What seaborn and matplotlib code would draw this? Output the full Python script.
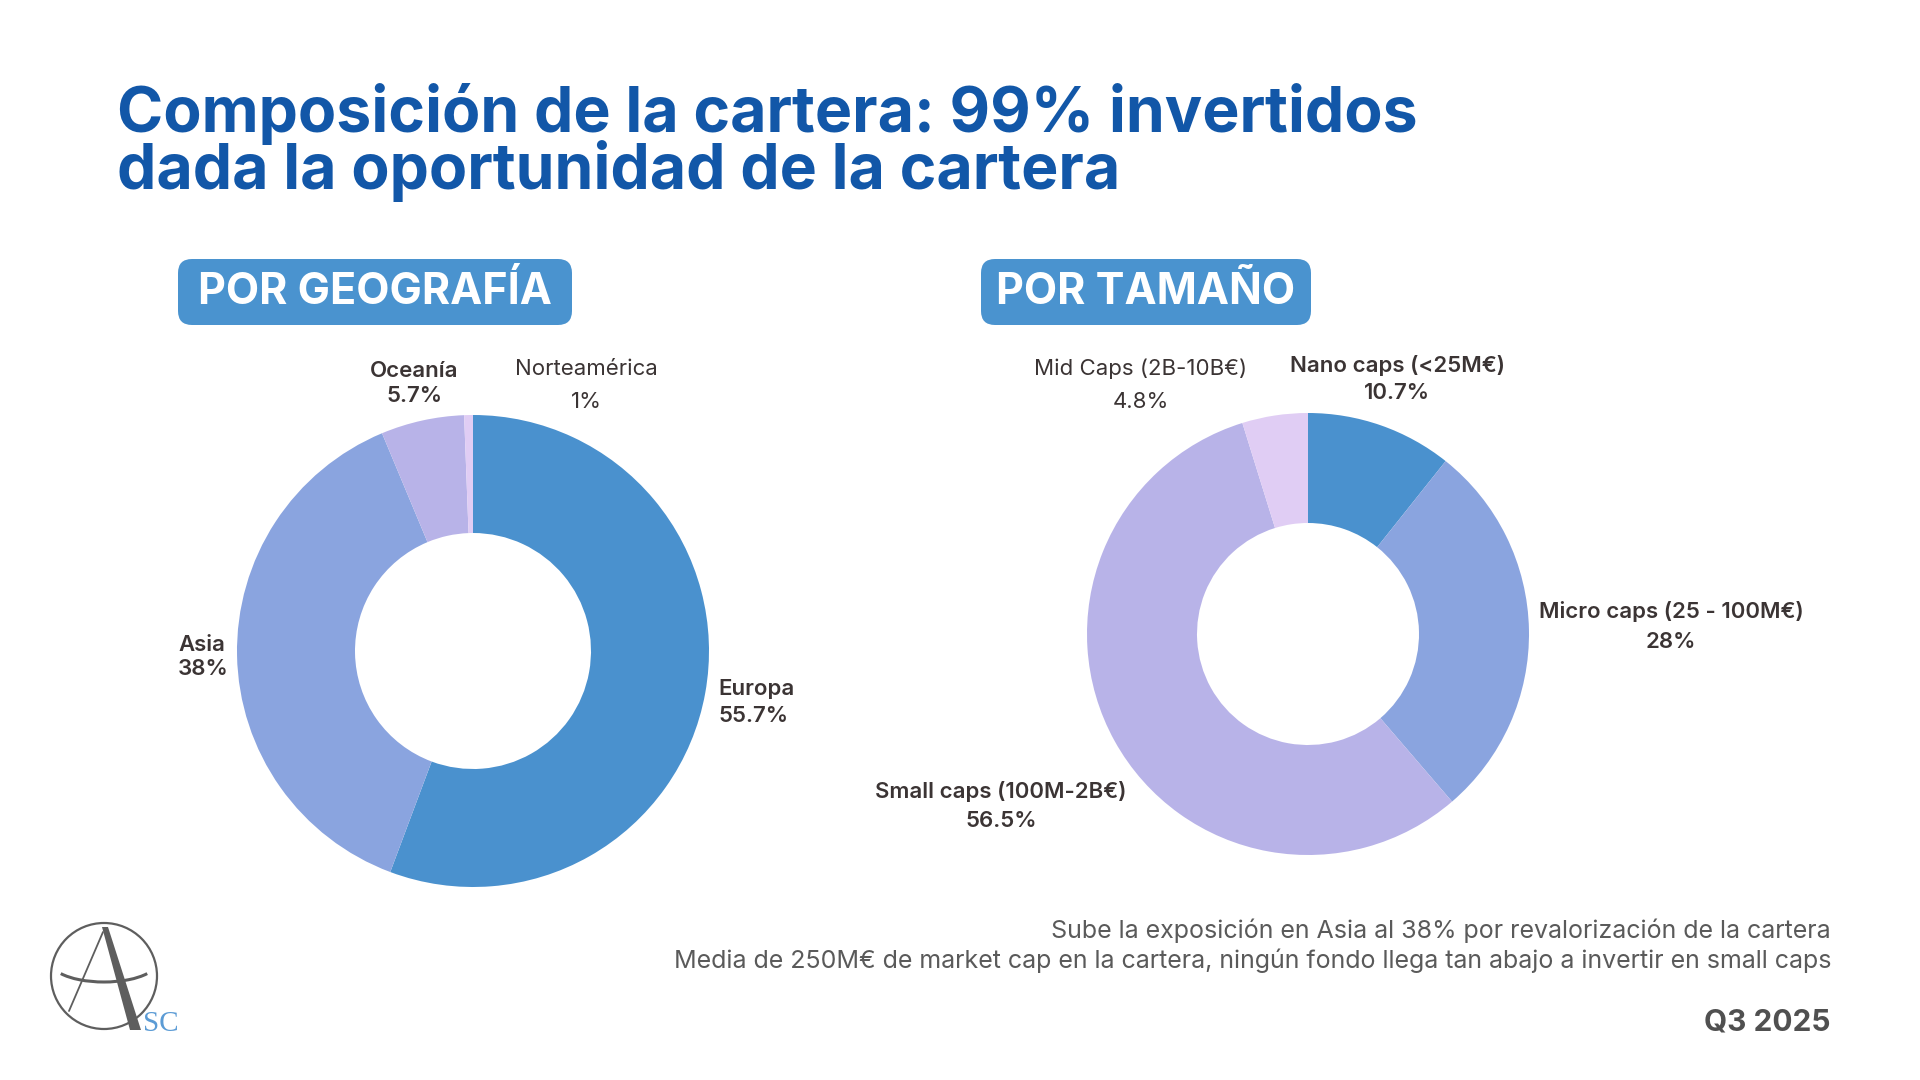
import matplotlib
matplotlib.use("Agg")
import matplotlib.pyplot as plt
import seaborn as sns
from matplotlib.patches import FancyBboxPatch, Circle, Polygon, Arc

# ---------------- data ----------------
geo_categories = ["Europa", "Asia", "Oceanía", "Norteamérica"]
geo_values = [55.7, 38.0, 5.7, 0.6]
geo_labels = ["55.7%", "38%", "5.7%", "1%"]

size_categories = ["Nano caps (<25M€)", "Micro caps (25 - 100M€)",
                   "Small caps (100M-2B€)", "Mid Caps (2B-10B€)"]
size_values = [10.7, 28.0, 56.5, 4.8]
size_labels = ["10.7%", "28%", "56.5%", "4.8%"]

title_lines = ["Composición de la cartera: 99% invertidos",
               "dada la oportunidad de la cartera"]
badge_texts = ["POR GEOGRAFÍA", "POR TAMAÑO"]
footer_lines = ["Sube la exposición en Asia al 38% por revalorización de la cartera",
                "Media de 250M€ de market cap en la cartera, ningún fondo llega tan abajo a invertir en small caps"]
period = "Q3 2025"

# ---------------- style ----------------
sns.set_theme(style="white")
plt.rcParams["font.family"] = ["Inter", "DejaVu Sans"]

palette = sns.color_palette(["#4A91CE", "#8AA4DF", "#B8B3E8", "#E0CDF4"])
TXT = "#3B3434"
BLUE_T = "#1257A8"
BADGE = "#4A93CF"

W, H = 1920, 1080
fig = plt.figure(figsize=(19.2, 10.8), dpi=100)
ax = fig.add_axes([0, 0, 1, 1])


def Y(y):
    return H - y


# ---------------- donuts ----------------
ax.pie(geo_values, colors=palette, startangle=90, counterclock=False,
       center=(473, Y(651)), radius=236,
       wedgeprops=dict(width=118, linewidth=0, edgecolor="none"))
ax.pie(size_values, colors=palette, startangle=90, counterclock=False,
       center=(1308, Y(634)), radius=221,
       wedgeprops=dict(width=110, linewidth=0, edgecolor="none"))

ax.set_xlim(0, W)
ax.set_ylim(0, H)
ax.set_aspect("equal")
ax.axis("off")

LFS = 16


def label(x, y1, y2, name, pct, ha="center", weight="semibold"):
    ax.text(x, Y(y1), name, ha=ha, va="center", fontsize=LFS, color=TXT, fontweight=weight)
    ax.text(x, Y(y2), pct, ha=ha, va="center", fontsize=LFS, color=TXT, fontweight=weight)


# geography labels
label(718, 689, 716, geo_categories[0], geo_labels[0], ha="left")
label(178, 645, 669, geo_categories[1], geo_labels[1], ha="left")
label(414, 371, 396, geo_categories[2], geo_labels[2])
label(586, 369, 402, geo_categories[3], geo_labels[3], weight="normal")

# size labels
label(1397, 365, 393, size_categories[0], size_labels[0])
label(1671, 612, 642, size_categories[1], size_labels[1])
label(1001, 792, 821, size_categories[2], size_labels[2])
label(1141, 369, 402, size_categories[3], size_labels[3], weight="normal")

# ---------------- title ----------------
ax.text(117, Y(132), title_lines[0], ha="left", va="baseline", fontsize=45,
        fontweight="bold", color=BLUE_T)
ax.text(117, Y(189), title_lines[1], ha="left", va="baseline", fontsize=45,
        fontweight="bold", color=BLUE_T)

# ---------------- badges ----------------
for (x0, x1), txt in zip([(178, 572), (981, 1311)], badge_texts):
    y0, y1 = 259, 325
    box = FancyBboxPatch((x0 + 10, Y(y1) + 10), (x1 - x0) - 20, (y1 - y0) - 20,
                         boxstyle="round,pad=10,rounding_size=14",
                         facecolor=BADGE, edgecolor="none")
    ax.add_patch(box)
    ax.text((x0 + x1) / 2, Y((y0 + y1) / 2) - 1, txt, ha="center", va="center",
            fontsize=31, fontweight="bold", color="white")

# ---------------- footer ----------------
ax.text(1831, Y(931), footer_lines[0], ha="right", va="center", fontsize=18, color="#5A5A5A")
ax.text(1831, Y(961), footer_lines[1], ha="right", va="center", fontsize=18, color="#5A5A5A")
ax.text(1831, Y(1022), period, ha="right", va="center", fontsize=21.5, fontweight="bold", color="#505050")

# ---------------- logo ----------------
GR = "#5E5E5E"
ax.add_patch(Circle((104, Y(976)), 53, fill=False, edgecolor=GR, linewidth=1.6))
ax.add_patch(Arc((104, Y(962)), 106, 40, theta1=195, theta2=345, edgecolor=GR, linewidth=2.2))
ax.add_patch(Polygon([(102, Y(927)), (108, Y(927)), (141, Y(1030)), (130, Y(1030))],
                     closed=True, facecolor=GR, edgecolor="none"))
ax.plot([103, 69], [Y(932), Y(1011)], color=GR, linewidth=1.3)
ax.text(143, Y(1031), "SC", ha="left", va="baseline", fontsize=21,
        family=["Liberation Serif", "DejaVu Serif"], color="#5B9BD5")

fig.savefig("out.png", dpi=100, facecolor="white")
